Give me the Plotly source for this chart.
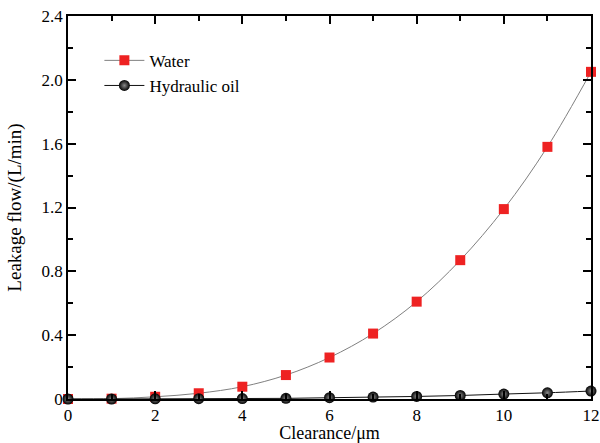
import plotly.graph_objects as go

clearance = [0, 1, 2, 3, 4, 5, 6, 7, 8, 9, 10, 11, 12]
water = [0.0, 0.002, 0.014, 0.036, 0.077, 0.15, 0.26, 0.41, 0.61, 0.87, 1.19, 1.58, 2.05]
oil = [0.0, 0.0, 0.001, 0.002, 0.003, 0.004, 0.008, 0.012, 0.016, 0.022, 0.031, 0.039, 0.05]
x_ticks = [0, 2, 4, 6, 8, 10, 12]
y_ticks = [0, 0.4, 0.8, 1.2, 1.6, 2.0, 2.4]
y_tick_text = ["0", "0.4", "0.8", "1.2", "1.6", "2.0", "2.4"]

FONT = "Times New Roman"

fig = go.Figure()
fig.add_trace(go.Scatter(
    x=clearance, y=water, name="Water", mode="lines+markers",
    line=dict(color="#808080", width=1, shape="spline"),
    marker=dict(symbol="square", size=10, color="#ee2222", line=dict(width=0)),
    cliponaxis=False,
))
fig.add_trace(go.Scatter(
    x=clearance, y=oil, name="Hydraulic oil", mode="lines+markers",
    line=dict(color="#111111", width=1, shape="spline"),
    marker=dict(symbol="circle", size=11, color="#000000",
                gradient=dict(type="radial", color="#8a8a8a"),
                line=dict(width=0)),
    cliponaxis=False,
))

axis_common = dict(
    showline=True, linecolor="black", linewidth=1.5, mirror="ticks",
    ticks="inside", ticklen=8, tickwidth=1.5, tickcolor="black",
    showgrid=False, zeroline=False, automargin=False,
    ticklabeloverflow="allow",
    tickfont=dict(family=FONT, size=17, color="black"),
)

fig.update_xaxes(
    range=[0, 12], tickvals=x_ticks,
    minor=dict(ticks="inside", ticklen=5, tickwidth=1.5, tickcolor="black", dtick=1),
    title=dict(text="Clearance/μm", font=dict(family=FONT, size=18, color="black"), standoff=6),
    **axis_common,
)
fig.update_yaxes(
    range=[0, 2.4], tickvals=y_ticks, ticktext=y_tick_text,
    minor=dict(ticks="inside", ticklen=5, tickwidth=1.5, tickcolor="black", dtick=0.2),
    title=dict(text="Leakage flow/(L/min)", font=dict(family=FONT, size=19, color="black")),
    **axis_common,
)

fig.update_layout(
    width=600, height=443,
    margin=dict(l=68, r=9, t=16, b=44),
    paper_bgcolor="white", plot_bgcolor="white",
    showlegend=True,
    legend=dict(x=0.06, y=0.93, xanchor="left", yanchor="top",
                bgcolor="rgba(0,0,0,0)", borderwidth=0,
                font=dict(family=FONT, size=17, color="black"),
                itemwidth=40, tracegroupgap=2),
    font=dict(family=FONT, color="black"),
)

fig.write_html("out.html")
